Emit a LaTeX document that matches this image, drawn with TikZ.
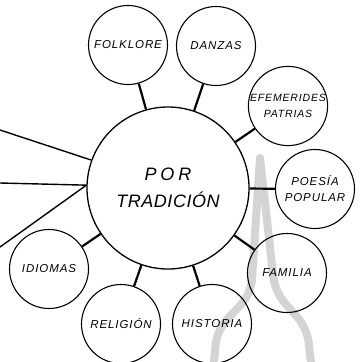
\documentclass[tikz,border=0pt]{standalone}
\usepackage{fontspec}
\setmainfont{Liberation Sans}
\newfontfamily\hand[LetterSpace=8]{Liberation Sans}
\begin{document}
\begin{tikzpicture}[x=1pt,y=-1pt,
  small/.style={circle,draw,line width=1.1pt,minimum size=79pt,inner sep=0pt,align=center,
    font=\hand\itshape\fontsize{11.5}{16}\selectfont},
  big/.style={circle,draw,line width=1.3pt,minimum size=162pt,inner sep=0pt,align=center,
    font=\hand\itshape\fontsize{18}{27}\selectfont},
  link/.style={line width=2.2pt},
  ray/.style={line width=1.4pt},
  wm/.style={line width=8pt,black!17,line cap=round,line join=round,rounded corners=14pt}]
\useasboundingbox (0,0) rectangle (360,362);
% watermark
\draw[wm] (213,372) -- (217,330) -- (251,294) -- (260,158);
\draw[wm] (260,158) -- (275,292) -- (307,328) -- (312,372);
% nodes
\node[big] (por) at (168,188) {{\addfontfeature{LetterSpace=22}POR}\\{\addfontfeature{LetterSpace=3}TRADICIÓN}};
\node[small] (folk) at (128,45) {FOLKLORE};
\node[small] (danz) at (216,46) {DANZAS};
\node[small,font=\hand\itshape\fontsize{10.5}{16}\selectfont] (efem) at (288,106) {EFEMERIDES\\PATRIAS};
\node[small] (poes) at (315,189) {POESÍA\\POPULAR};
\node[small] (fam) at (287,273) {FAMILIA};
\node[small] (hist) at (212,324) {HISTORIA};
\node[small] (reli) at (121,324) {RELIGIÓN};
\node[small] (idio) at (49,269) {IDIOMAS};
% connectors
\foreach \n in {folk,danz,efem,poes,fam,hist,reli,idio}
  \draw[link] (\n) -- (por);
% rays to the left
\coordinate (l1) at (0,130);
\coordinate (l2) at (0,183);
\coordinate (l3) at (0,247);
\draw[ray] (l1) -- (por.160);
\draw[ray] (l2) -- (por.178);
\draw[ray] (l3) -- (por.178);
\end{tikzpicture}
\end{document}
